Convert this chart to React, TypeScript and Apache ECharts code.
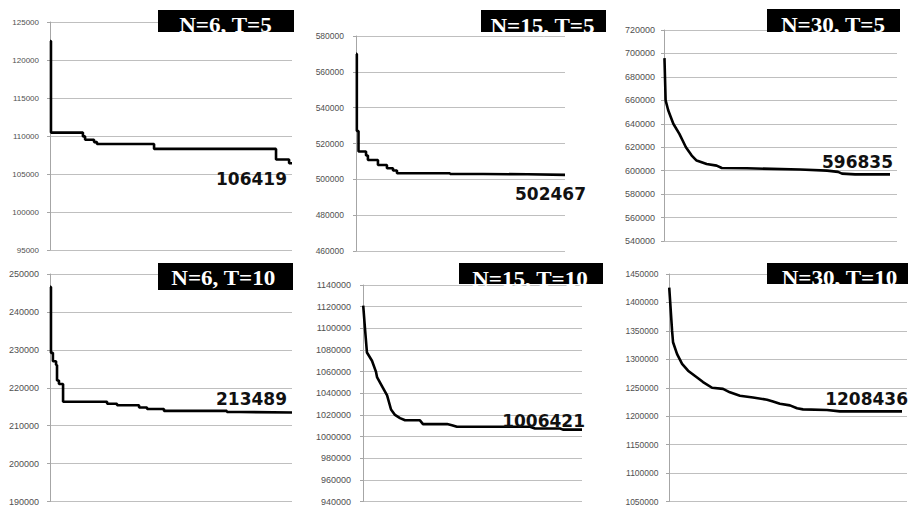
import React, { useEffect, useRef } from "react";
import * as echarts from "echarts";

// ---- data (x = relative iteration progress 0..100, y = objective value) ----
const titles = ["N=6, T=5", "N=15, T=5", "N=30, T=5", "N=6, T=10", "N=15, T=10", "N=30, T=10"];
const finalValues = [106419, 502467, 596835, 213489, 1006421, 1208436];

const n6t5: number[][] = [
  [0, 122500], [0.4, 110450], [13.6, 109950], [14.5, 109500], [18.2, 109200],
  [19.4, 108950], [43.0, 108300], [93.4, 106900], [98.8, 106419], [100, 106419],
];
const n15t5: number[][] = [
  [0, 570000], [0.4, 527000], [1.2, 515500], [4.8, 513300], [5.7, 510800],
  [10.5, 508000], [14.8, 506200], [17.7, 504900], [19.6, 503400], [45, 503000],
  [60.8, 502800], [82, 502500], [100, 502467],
];
const n30t5: number[][] = [
  [0.2, 696000], [0.7, 660000], [1.8, 651500], [4.0, 640000], [6.6, 631400],
  [8.0, 625700], [9.4, 620000], [11.9, 612900], [14.0, 608600], [18.3, 605700],
  [22.6, 604300], [24.8, 602300], [35.6, 602000], [58.4, 601000], [70, 600000],
  [74.7, 599000], [76.4, 597500], [82, 596835], [97, 596835],
];
const n6t10: number[][] = [
  [0, 246600], [0.4, 229200], [1.2, 227000], [2.5, 226000], [2.9, 221900],
  [3.7, 221000], [5.4, 216300], [23.6, 215800], [27.7, 215400], [36.8, 214800],
  [40.1, 214400], [47.1, 213900], [73.1, 213600], [78.5, 213489], [100, 213489],
];
const n15t10: number[][] = [
  [0.1, 1121000], [0.9, 1100000], [1.8, 1077600], [4.1, 1070000], [5.9, 1060000],
  [6.4, 1055000], [9.1, 1045000], [11, 1038000], [12.8, 1025000], [14.6, 1020000],
  [16.9, 1017000], [19.2, 1015000], [26, 1015000], [27.4, 1011500], [38.4, 1011500],
  [40.6, 1010500], [42.9, 1009000], [76.3, 1009000], [78.5, 1007500], [90, 1007500],
  [91.3, 1006421], [100, 1006421],
];
const n30t10: number[][] = [
  [0.1, 1426000], [1.3, 1350000], [1.7, 1330000], [3.4, 1309000], [5.5, 1292000],
  [8, 1280000], [11.8, 1268000], [14.3, 1260000], [18.1, 1250000], [22.7, 1248000],
  [25.6, 1242000], [29.8, 1236000], [35.3, 1233000], [41.2, 1229000], [43.7, 1226000],
  [46.6, 1222000], [50.8, 1219000], [53.8, 1214000], [56.3, 1212000], [66.4, 1211000],
  [71.8, 1208436], [97.9, 1208436],
];
const seriesData = [n6t5, n15t5, n30t5, n6t10, n15t10, n30t10];
const stepped = [true, true, false, true, false, false];

const yMins = [95000, 460000, 540000, 190000, 940000, 1050000];
const yMaxs = [125000, 580000, 720000, 250000, 1140000, 1450000];
const yIntervals = [5000, 20000, 20000, 10000, 20000, 50000];

// ---- layout (pixels) ----
const grids = [
  { left: 50, top: 22, width: 242, height: 228 },
  { left: 356, top: 36, width: 209, height: 215 },
  { left: 664, top: 30, width: 233, height: 211 },
  { left: 50, top: 274, width: 242, height: 230 },
  { left: 363, top: 285, width: 219, height: 218 },
  { left: 669, top: 274, width: 238, height: 230 },
];
const labelSizes = [8, 8.5, 9, 9, 9, 8.5];
const labelMargins = [11, 12, 9, 11, 12, 10.5];
const titleBoxes = [
  { x: 158, y: 10, w: 136, h: 22, cx: 225.5, cy: 25 },
  { x: 481, y: 10, w: 125, h: 22, cx: 542.5, cy: 26 },
  { x: 767, y: 9, w: 133, h: 23, cx: 833, cy: 25 },
  { x: 158, y: 263, w: 135, h: 27, cx: 223.3, cy: 278.3 },
  { x: 459, y: 263, w: 144, h: 21, cx: 530, cy: 279 },
  { x: 767, y: 263, w: 141, h: 21, cx: 839.5, cy: 278.3 },
];
const valueLabelPos = [
  { x: 287, y: 178.5 },
  { x: 586, y: 194 },
  { x: 893, y: 161.5 },
  { x: 287, y: 398.8 },
  { x: 585, y: 420.5 },
  { x: 908, y: 399 },
];

export default function App() {
  const ref = useRef<HTMLDivElement>(null);
  useEffect(() => {
    if (!ref.current) return;
    const chart = echarts.init(ref.current, undefined, { renderer: "svg" });
    const graphic: any[] = [];
    titles.forEach((t, i) => {
      const b = titleBoxes[i];
      graphic.push({
        type: "rect",
        z: 100,
        shape: { x: b.x, y: b.y, width: b.w, height: b.h },
        style: { fill: "#000" },
      });
      graphic.push({
        type: "text",
        z: 101,
        x: b.cx,
        y: b.cy,
        scaleX: 1.1,
        style: {
          text: t,
          fill: "#fff",
          font: 'bold 21px "Liberation Serif", serif',
          textAlign: "center",
          textVerticalAlign: "middle",
          align: "center",
          verticalAlign: "middle",
        },
      });
      const v = valueLabelPos[i];
      graphic.push({
        type: "text",
        z: 101,
        x: v.x,
        y: v.y,
        style: {
          text: String(finalValues[i]),
          fill: "#111",
          font: 'bold 17px "DejaVu Sans", sans-serif',
          textAlign: "right",
          textVerticalAlign: "middle",
          align: "right",
          verticalAlign: "middle",
        },
      });
    });

    const option: any = {
      animation: false,
      backgroundColor: "#fff",
      grid: grids.map((g) => ({ ...g, containLabel: false })),
      xAxis: grids.map((_, i) => ({
        type: "value",
        gridIndex: i,
        min: 0,
        max: 100,
        show: false,
      })),
      yAxis: grids.map((_, i) => ({
        type: "value",
        gridIndex: i,
        min: yMins[i],
        max: yMaxs[i],
        interval: yIntervals[i],
        axisLine: { show: true, lineStyle: { color: "#a6a6a6", width: 1 } },
        axisTick: { show: true, length: 3, lineStyle: { color: "#a6a6a6" } },
        axisLabel: {
          fontSize: labelSizes[i],
          color: "#505050",
          fontFamily: '"Liberation Sans", sans-serif',
          margin: labelMargins[i],
          formatter: (val: number) => String(val),
        },
        splitLine: { show: true, lineStyle: { color: "#bfbfbf", width: 1 } },
      })),
      series: seriesData.map((d, i) => ({
        type: "line",
        xAxisIndex: i,
        yAxisIndex: i,
        data: d,
        step: stepped[i] ? "end" : false,
        showSymbol: false,
        symbol: "none",
        lineStyle: { color: "#000", width: 2.6 },
      })),
      graphic,
    };
    chart.setOption(option);
    return () => chart.dispose();
  }, []);
  return (
    <div
      ref={ref}
      style={{ position: "fixed", left: 0, top: 0, width: 911, height: 506, background: "#fff" }}
    />
  );
}
